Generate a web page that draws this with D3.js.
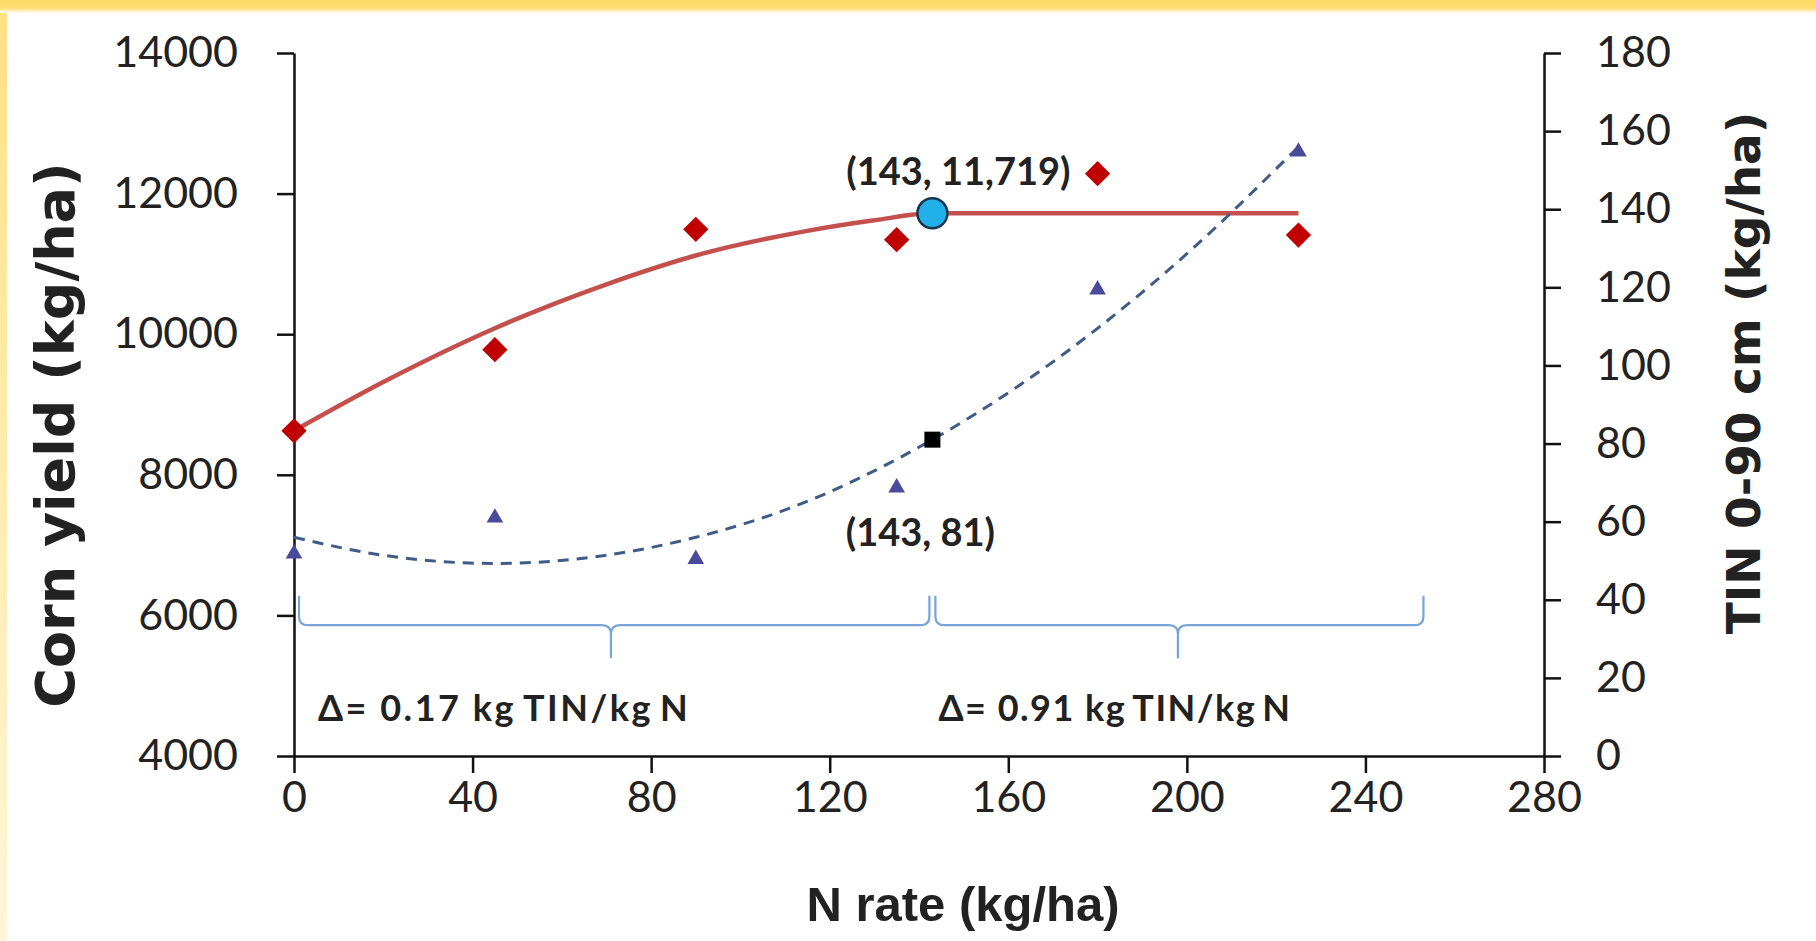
<!DOCTYPE html>
<html>
<head>
<meta charset="utf-8">
<script src="https://cdn.jsdelivr.net/npm/d3@7"></script>
<style>
body { margin: 0; background: #fff; }
</style>
</head>
<body>
<div id="chart"></div>
<script>
// observed values
var nRate = [0, 45, 90, 135, 180, 225];
var yieldObs = [8626, 9780, 11492, 11344, 12283, 11410];
var tinObs = [51.8, 61, 50.4, 68.7, 119.4, 154.7];

// fitted curves
var yieldFitN = [0, 20, 45, 70, 90, 115, 130, 143, 225];
var yieldFit = [8626, 9320, 10085, 10710, 11120, 11470, 11620, 11719, 11719];
var tinFitN = [0, 20, 45, 70, 90, 110, 143, 180, 200, 225];
var tinFit = [56, 51.4, 49.3, 51.4, 56, 63, 81, 109.5, 128.6, 156];

var optN = 143, optYield = 11719, optTin = 81;

var xTicks = [0, 40, 80, 120, 160, 200, 240, 280];
var yLeftTicks = [4000, 6000, 8000, 10000, 12000, 14000];
var yRightTicks = [0, 20, 40, 60, 80, 100, 120, 140, 160, 180];

// brace ranges: start, tip, end (N rate)
var braces = [[0, 71, 143], [143, 198, 253]];
var labels = ['(143, 11,719)', '(143, 81)', 'Δ= 0.17 kg\u2009TIN/kg\u2009N', 'Δ= 0.91 kg\u2009TIN/kg\u2009N'];

var W = 1816, H = 941;
var plotLeft = 294, plotRight = 1544, plotTop = 53, plotBottom = 756;

var svg = d3.select('#chart').append('svg')
	.attr('width', W)
	.attr('height', H);

// frame
var defs = svg.append('defs');
var g1 = defs.append('linearGradient').attr('id', 'topfade').attr('x1', 0).attr('y1', 0).attr('x2', 0).attr('y2', 1);
g1.append('stop').attr('offset', '0%').attr('stop-color', '#ffd966');
g1.append('stop').attr('offset', '60%').attr('stop-color', '#ffdc70');
g1.append('stop').attr('offset', '100%').attr('stop-color', '#fffdf5');
var g2 = defs.append('linearGradient').attr('id', 'leftfade').attr('x1', 0).attr('y1', 0).attr('x2', 0).attr('y2', 1);
g2.append('stop').attr('offset', '0%').attr('stop-color', '#ffe184');
g2.append('stop').attr('offset', '100%').attr('stop-color', '#fff6d8');

svg.append('rect').attr('width', W).attr('height', H).attr('fill', '#fff');
svg.append('rect').attr('x', 0).attr('y', 0).attr('width', 7).attr('height', H).attr('fill', 'url(#leftfade)');
svg.append('rect').attr('x', 0).attr('y', 0).attr('width', W).attr('height', 13).attr('fill', 'url(#topfade)');

var x = d3.scaleLinear().domain([0, 280]).range([plotLeft, plotRight]);
var yL = d3.scaleLinear().domain([4000, 14000]).range([plotBottom, plotTop]);
var yR = d3.scaleLinear().domain([0, 180]).range([plotBottom, plotTop]);

var tickFont = 'Lato, "Open Sans", sans-serif';

function styleAxis(g) {
	g.selectAll('path').style('fill', 'none').style('stroke', '#111').style('stroke-width', 2.5);
	g.selectAll('line').style('stroke', '#111').style('stroke-width', 2.5);
	g.selectAll('text').style('font-family', tickFont).style('font-size', '43px').style('fill', '#222');
}

var haxis = d3.axisBottom(x).tickValues(xTicks).tickSize(17).tickSizeOuter(0).tickPadding(8);
var hguide = svg.append('g').attr('transform', 'translate(0,' + plotBottom + ')');
haxis(hguide);
styleAxis(hguide);

var laxis = d3.axisLeft(yL).tickValues(yLeftTicks).tickSize(17).tickSizeOuter(0).tickPadding(39).tickFormat(d3.format('d'));
var lguide = svg.append('g').attr('transform', 'translate(' + plotLeft + ',0)');
laxis(lguide);
styleAxis(lguide);

var raxis = d3.axisRight(yR).tickValues(yRightTicks).tickSize(17).tickSizeOuter(0).tickPadding(35);
var rguide = svg.append('g').attr('transform', 'translate(' + plotRight + ',0)');
raxis(rguide);
styleAxis(rguide);

// axis titles
svg.append('text')
	.attr('x', 963).attr('y', 921)
	.attr('text-anchor', 'middle')
	.style('font-family', '"Liberation Sans", Arial, sans-serif')
	.style('font-weight', 'bold')
	.style('font-size', '49px')
	.style('fill', '#222')
	.text('N rate (kg/ha)');

svg.append('text')
	.attr('transform', 'translate(74,435) rotate(-90)')
	.attr('text-anchor', 'middle')
	.style('font-family', '"DejaVu Sans", sans-serif')
	.style('font-weight', 'bold')
	.style('font-size', '54px')
	.style('fill', '#222')
	.text('Corn yield (kg/ha)');

svg.append('text')
	.attr('transform', 'translate(1760,373) rotate(-90)')
	.attr('text-anchor', 'middle')
	.style('font-family', '"DejaVu Sans", sans-serif')
	.style('font-weight', 'bold')
	.style('font-size', '47px')
	.style('fill', '#222')
	.text('TIN 0-90 cm (kg/ha)');

// braces
var lineY = yR(33.5), endY = yR(41), tipY = yR(25), r = 9;
function bracePath(x1, xm, x2) {
	return 'M' + x1 + ',' + endY + ' L' + x1 + ',' + (lineY - r) +
		' Q' + x1 + ',' + lineY + ' ' + (x1 + r) + ',' + lineY +
		' L' + (xm - r) + ',' + lineY +
		' Q' + xm + ',' + lineY + ' ' + xm + ',' + (lineY + r) +
		' L' + xm + ',' + tipY +
		' M' + xm + ',' + (lineY + r) +
		' Q' + xm + ',' + lineY + ' ' + (xm + r) + ',' + lineY +
		' L' + (x2 - r) + ',' + lineY +
		' Q' + x2 + ',' + lineY + ' ' + x2 + ',' + (lineY - r) +
		' L' + x2 + ',' + endY;
}
svg.selectAll('path.brace').data(braces)
	.enter().append('path')
	.attr('class', 'brace')
	.attr('d', function(b, i) {
		var x1 = x(b[0]) + (i === 0 ? 5 : 3);
		var x2 = x(b[2]) - (i === 0 ? 3 : 0);
		return bracePath(x1, x(b[1]), x2);
	})
	.style('fill', 'none')
	.style('stroke', '#7aa3d6')
	.style('stroke-width', 2.2);

// fitted curves
var yieldLine = d3.line()
	.x(function(d, i) { return x(yieldFitN[i]); })
	.y(function(d) { return yL(d); })
	.curve(d3.curveMonotoneX);
svg.append('path')
	.attr('d', yieldLine(yieldFit))
	.style('fill', 'none')
	.style('stroke', '#c4504d')
	.style('stroke-width', 4.5);

var tinLine = d3.line()
	.x(function(d, i) { return x(tinFitN[i]); })
	.y(function(d) { return yR(d); })
	.curve(d3.curveMonotoneX);
svg.append('path')
	.attr('d', tinLine(tinFit))
	.style('fill', 'none')
	.style('stroke', '#3f5b86')
	.style('stroke-width', 3)
	.style('stroke-dasharray', '11,8');

// observed markers
svg.selectAll('path.tri').data(tinObs)
	.enter().append('path')
	.attr('class', 'tri')
	.attr('d', d3.symbol().type(d3.symbolTriangle).size(120))
	.attr('transform', function(d, i) { return 'translate(' + x(nRate[i]) + ',' + yR(d) + ')'; })
	.style('fill', '#4a4a9c');

svg.selectAll('path.dia').data(yieldObs)
	.enter().append('path')
	.attr('class', 'dia')
	.attr('d', d3.symbol().type(d3.symbolSquare).size(320))
	.attr('transform', function(d, i) { return 'translate(' + x(nRate[i]) + ',' + yL(d) + ') rotate(45)'; })
	.style('fill', '#c00000');

// optimum points
svg.append('rect')
	.attr('x', x(optN) - 8).attr('y', yR(optTin) - 8)
	.attr('width', 16).attr('height', 16)
	.style('fill', '#000');

svg.append('circle')
	.attr('cx', x(optN)).attr('cy', yL(optYield)).attr('r', 15)
	.style('fill', '#22b0ea')
	.style('stroke', '#17354f')
	.style('stroke-width', 2.5);

// annotations
var annFont = 'Lato, "Open Sans", sans-serif';
svg.append('text')
	.attr('x', x(optN) + 26).attr('y', yL(optYield) - 28)
	.attr('text-anchor', 'middle')
	.style('font-family', annFont).style('font-weight', 'bold').style('font-size', '38px').style('fill', '#222')
	.text(labels[0]);
svg.append('text')
	.attr('x', x(optN) - 12).attr('y', yR(optTin) + 106)
	.attr('text-anchor', 'middle')
	.style('font-family', annFont).style('font-weight', 'bold').style('font-size', '38px').style('fill', '#222')
	.text(labels[1]);
svg.append('text')
	.attr('x', x(0) + 24).attr('y', 721)
	.style('font-family', annFont).style('font-weight', 'bold').style('font-size', '36px').style('fill', '#222')
	.style('letter-spacing', '2.5px')
	.text(labels[2]);
svg.append('text')
	.attr('x', x(optN) + 6).attr('y', 721)
	.style('font-family', annFont).style('font-weight', 'bold').style('font-size', '36px').style('fill', '#222')
	.style('letter-spacing', '1.5px')
	.text(labels[3]);
</script>
</body>
</html>
